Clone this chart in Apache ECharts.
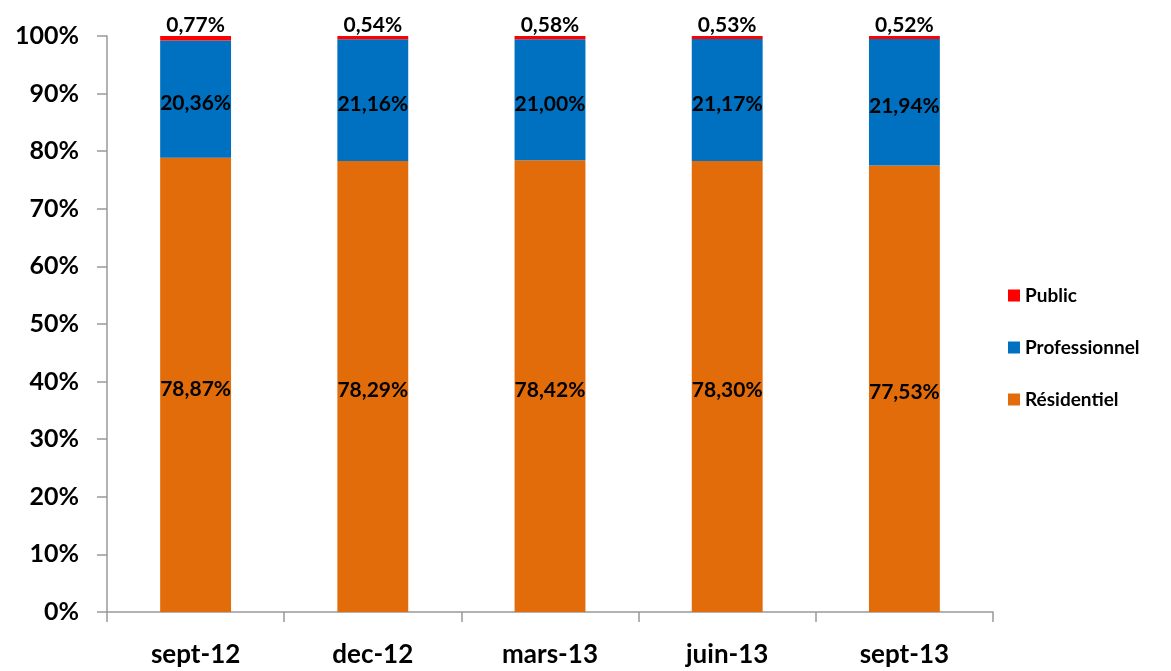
<!DOCTYPE html>
<html><head><meta charset="utf-8">
<script src="https://cdn.jsdelivr.net/npm/echarts@6/dist/echarts.min.js"></script>
<style>html,body{margin:0;padding:0;background:#fff}#c{width:1171px;height:671px}</style>
</head><body><div id="c"></div>
<script>
const categories = ['sept-12','dec-12','mars-13','juin-13','sept-13'];
const residentiel = [78.87, 78.29, 78.42, 78.30, 77.53];
const professionnel = [20.36, 21.16, 21.00, 21.17, 21.94];
const publicVals = [0.77, 0.54, 0.58, 0.53, 0.52];
const yTicks = [0,10,20,30,40,50,60,70,80,90,100];

const font = 'Lato, "Open Sans", sans-serif';
const fmt = p => p.value.toFixed(2).replace('.', ',') + '%';
const chart = echarts.init(document.getElementById('c'));
chart.setOption({
  animation: false,
  textStyle: {fontFamily: font},
  grid: {left: 107, right: 178, top: 36, bottom: 59},
  legend: {
    orient: 'vertical', left: 1003, top: 281, itemGap: 33,
    itemWidth: 12, itemHeight: 12, icon: 'rect',
    data: ['Public','Professionnel','Résidentiel'],
    textStyle: {fontFamily: font, fontWeight: 'bold', fontSize: 19, color: '#000'}
  },
  xAxis: {
    type: 'category', data: categories,
    axisLine: {lineStyle: {color: '#999', width: 1.5}},
    axisTick: {show: true, length: 10, lineStyle: {color: '#999', width: 1.5}},
    axisLabel: {fontFamily: font, fontWeight: 'bold', fontSize: 26, color: '#000', margin: 30}
  },
  yAxis: {
    type: 'value', min: 0, max: 100, interval: 10,
    splitLine: {show: false},
    axisLine: {show: true, lineStyle: {color: '#999', width: 1.5}},
    axisTick: {show: true, length: 10, lineStyle: {color: '#999', width: 1.5}},
    axisLabel: {fontFamily: font, fontWeight: 'bold', fontSize: 25, color: '#000', margin: 28,
      formatter: v => yTicks.includes(v) ? v + '%' : ''}
  },
  series: [
    {name: 'Résidentiel', type: 'bar', stack: 's', data: residentiel, barWidth: '40%',
     itemStyle: {color: '#E36C0A'},
     label: {show: true, position: 'inside', offset: [0, 4], formatter: fmt, color: '#000', fontFamily: font, fontWeight: 'bold', fontSize: 21}},
    {name: 'Professionnel', type: 'bar', stack: 's', data: professionnel, barWidth: '40%',
     itemStyle: {color: '#0070C0'},
     label: {show: true, position: 'inside', offset: [0, 4], formatter: fmt, color: '#000', fontFamily: font, fontWeight: 'bold', fontSize: 21}},
    {name: 'Public', type: 'bar', stack: 's', data: publicVals, barWidth: '40%',
     itemStyle: {color: '#FF0000'},
     label: {show: true, position: 'top', distance: 0, formatter: fmt, color: '#000', fontFamily: font, fontWeight: 'bold', fontSize: 21}}
  ]
});
</script></body></html>
